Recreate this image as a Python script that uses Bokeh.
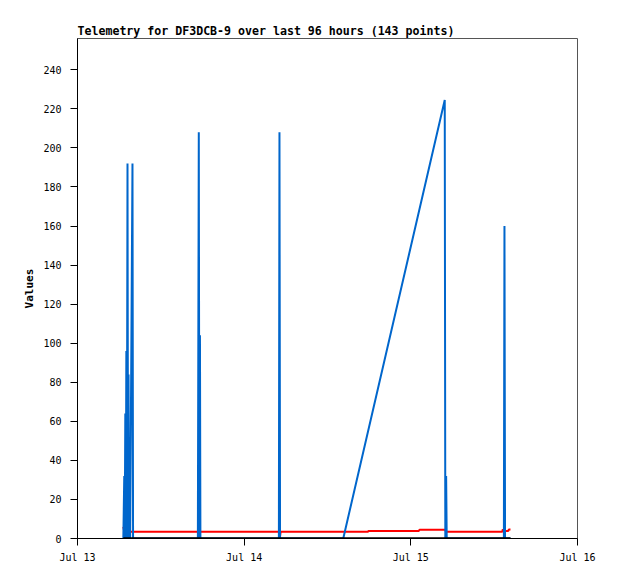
import pandas as pd
from bokeh.plotting import figure
from bokeh.models import Range1d, FixedTicker, DatetimeTickFormatter
from bokeh.embed import file_html
from bokeh.resources import INLINE

title_text = "Telemetry for DF3DCB-9 over last 96 hours (143 points)"
y_label = "Values"
y_ticks = [0, 20, 40, 60, 80, 100, 120, 140, 160, 180, 200, 220, 240]
x_ticks = ["2024-07-13", "2024-07-14", "2024-07-15", "2024-07-16"]

blue_times = [
    "2024-07-13 06:36", "2024-07-13 06:44", "2024-07-13 06:48", "2024-07-13 06:53",
    "2024-07-13 06:57", "2024-07-13 07:02", "2024-07-13 07:06", "2024-07-13 07:12",
    "2024-07-13 07:17", "2024-07-13 07:21", "2024-07-13 07:26", "2024-07-13 07:30",
    "2024-07-13 07:35", "2024-07-13 07:55", "2024-07-13 08:00",
    "2024-07-13 17:20", "2024-07-13 17:28", "2024-07-13 17:33", "2024-07-13 17:38",
    "2024-07-13 17:42",
    "2024-07-14 05:00", "2024-07-14 05:05", "2024-07-14 05:10",
    "2024-07-14 14:16", "2024-07-15 04:53", "2024-07-15 04:58", "2024-07-15 05:05",
    "2024-07-15 05:10", "2024-07-15 13:24", "2024-07-15 13:29", "2024-07-15 13:34",
    "2024-07-15 14:21",
]
blue_values = [
    0, 32, 0, 64,
    0, 96, 0, 192,
    0, 84, 0, 28,
    0, 192, 0,
    0, 208, 0, 104,
    0,
    0, 208, 0,
    0, 224.5, 0, 32,
    0, 0, 160, 0,
    0,
]

red_times = [
    "2024-07-13 06:36", "2024-07-13 06:44", "2024-07-14 05:05", "2024-07-14 05:10",
    "2024-07-14 05:15", "2024-07-14 17:50", "2024-07-14 17:55", "2024-07-15 01:10",
    "2024-07-15 01:15", "2024-07-15 04:58", "2024-07-15 05:03", "2024-07-15 13:10",
    "2024-07-15 13:14", "2024-07-15 13:25", "2024-07-15 14:02", "2024-07-15 14:06",
    "2024-07-15 14:21",
]
red_values = [6.0, 3.4, 3.4, 1.0, 3.4, 3.4, 3.9, 3.9, 4.5, 4.5, 3.4, 3.4, 4.6, 3.9, 3.9, 4.6, 4.6]

black_times = ["2024-07-13 06:36", "2024-07-14 00:00", "2024-07-15 00:00", "2024-07-15 14:21"]
black_values = [0, 0, 0, 0]

FONT = "DejaVu Sans Mono"

p = figure(
    width=610, height=571,
    x_axis_type="datetime",
    x_range=Range1d(pd.Timestamp(x_ticks[0]), pd.Timestamp(x_ticks[-1])),
    y_range=Range1d(0, 256),
    output_backend="svg", toolbar_location=None,
    min_border_left=77, min_border_right=33, min_border_top=38, min_border_bottom=33,
)
p.title.text = title_text
p.title.text_font = FONT
p.title.text_font_size = "11.6px"
p.title.text_font_style = "bold"
p.title.text_color = "black"
p.title.align = "left"
p.title.standoff = 2

p.grid.visible = False
p.outline_line_color = "#555555"
p.background_fill_color = "white"
p.border_fill_color = "white"

p.line(pd.to_datetime(red_times), red_values, line_color="#ff0000", line_width=2)
p.line(pd.to_datetime(blue_times), blue_values, line_color="#0066cc", line_width=2)
p.line(pd.to_datetime(black_times), black_values, line_color="#000000", line_width=2.5)

p.yaxis.ticker = FixedTicker(ticks=y_ticks)
p.xaxis.ticker = FixedTicker(ticks=[pd.Timestamp(t).value / 1e6 for t in x_ticks])
fmt = "%b %d"
p.xaxis.formatter = DatetimeTickFormatter(
    microseconds=fmt, milliseconds=fmt, seconds=fmt, minsec=fmt, minutes=fmt,
    hourmin=fmt, hours=fmt, days=fmt, months=fmt, years=fmt)

for ax in (p.xaxis[0], p.yaxis[0]):
    ax.axis_line_color = "black"
    ax.major_tick_line_color = "black"
    ax.minor_tick_line_color = None
    ax.major_tick_in = 0
    ax.major_tick_out = 7
    ax.major_label_text_font = FONT
    ax.major_label_text_font_size = "10px"
    ax.major_label_text_color = "black"

p.yaxis.major_label_standoff = 9
p.xaxis.major_label_standoff = 6

p.yaxis.axis_label = y_label
p.yaxis.axis_label_text_font = FONT
p.yaxis.axis_label_text_font_size = "11px"
p.yaxis.axis_label_text_font_style = "bold"
p.yaxis.axis_label_standoff = 4
p.yaxis.axis_label_text_color = "black"

open("out.html", "w").write(file_html(p, INLINE))
